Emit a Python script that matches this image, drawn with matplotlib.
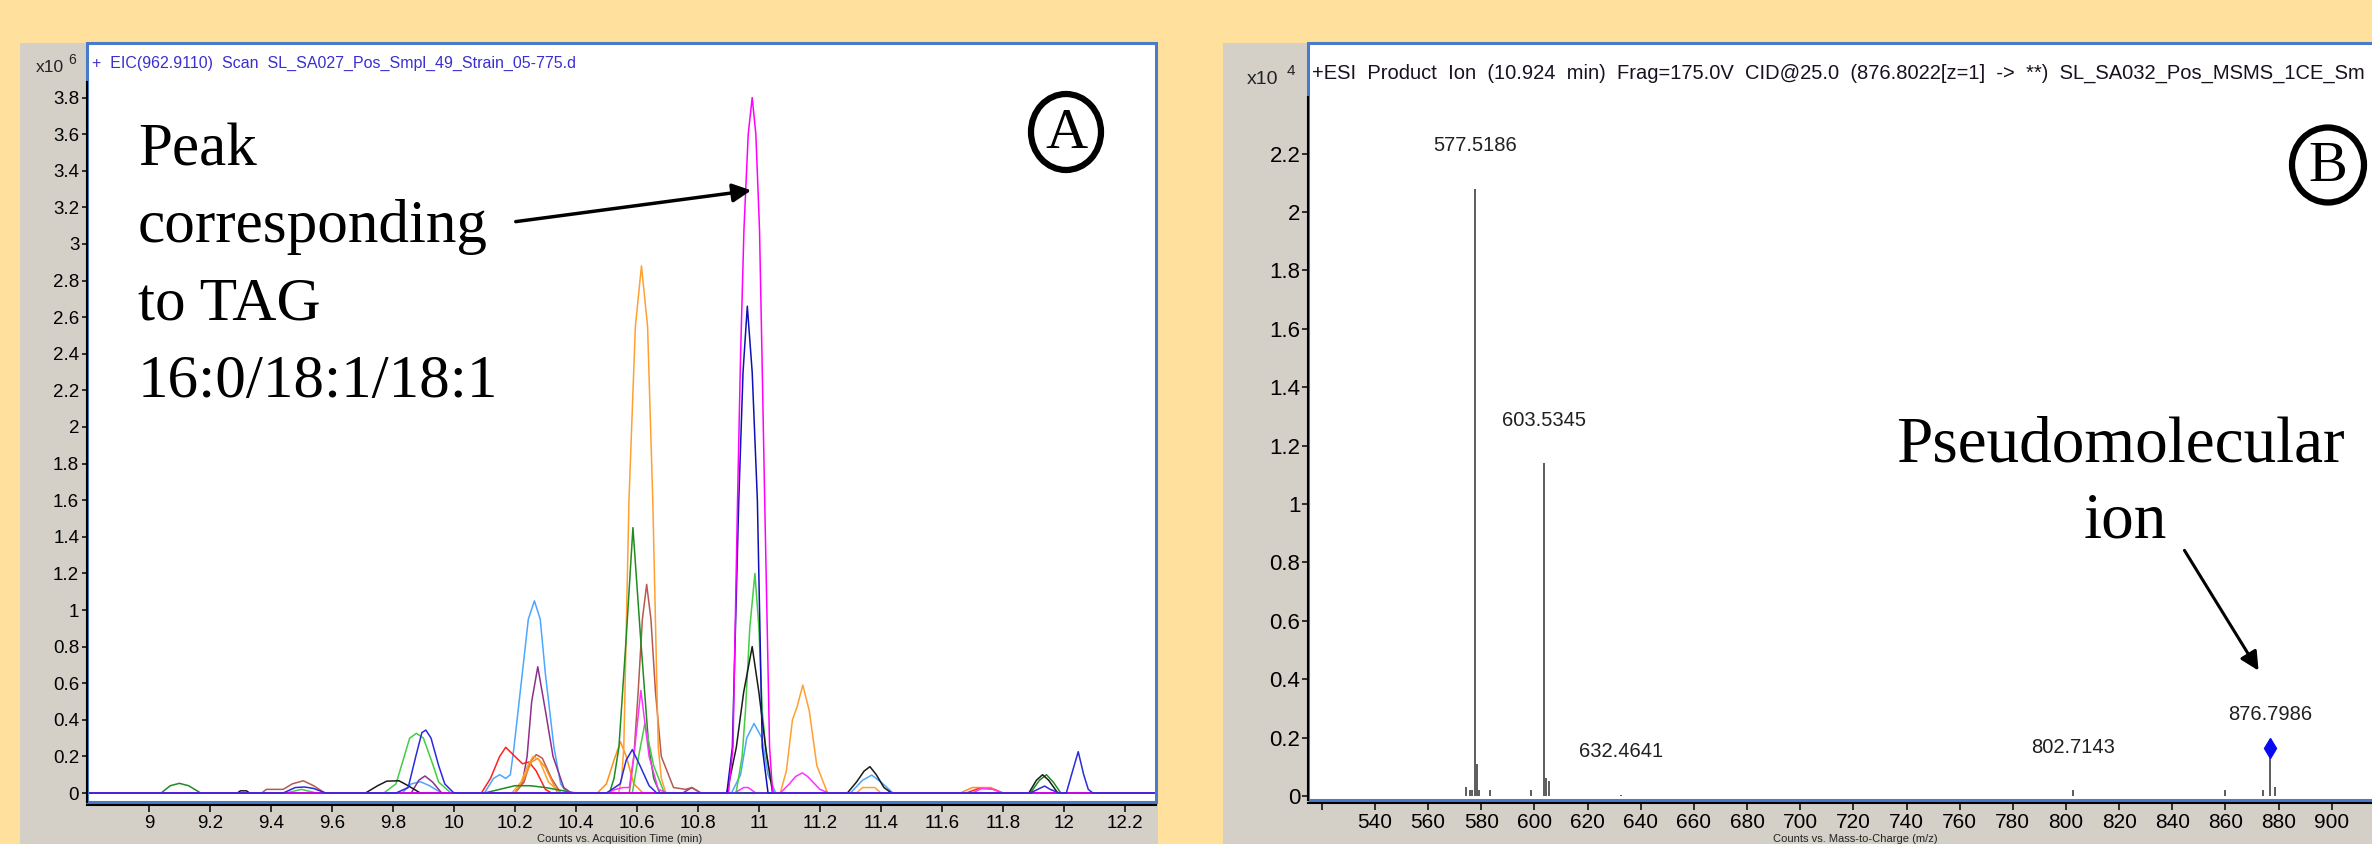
import numpy as np
import matplotlib.pyplot as plt
from matplotlib.patches import Rectangle, Ellipse
from matplotlib.ticker import FuncFormatter

plt.rcParams['font.family'] = ['Liberation Sans', 'DejaVu Sans']

# ---- panel A: extracted ion chromatograms (counts x10^6 vs time, min) ----
lightblue_t = [8.80, 9.83, 9.86, 9.89, 9.92, 9.96, 10.10, 10.13, 10.15, 10.17, 10.185, 10.197, 10.224, 10.244, 10.264,
               10.283, 10.30, 10.328, 10.35, 10.37, 10.91, 10.94, 10.96, 10.984, 11.01, 11.03, 11.055,
               11.30, 11.34, 11.37, 11.40, 11.44, 12.30]
lightblue_i = [0, 0, 0.05, 0.062, 0.04, 0, 0, 0.08, 0.1, 0.08, 0.1, 0.25, 0.65, 0.95, 1.05,
               0.95, 0.65, 0.25, 0.05, 0, 0, 0.1, 0.3, 0.38, 0.3, 0.1, 0,
               0, 0.07, 0.098, 0.06, 0, 0]

purple_t = [8.80, 9.86, 9.885, 9.905, 9.93, 9.96, 10.20, 10.225, 10.24, 10.255, 10.275, 10.30, 10.325, 10.36, 10.385,
            10.75, 10.78, 10.81, 12.30]
purple_i = [0, 0, 0.07, 0.093, 0.06, 0, 0, 0.06, 0.2, 0.5, 0.69, 0.45, 0.2, 0.03, 0,
            0, 0.03, 0, 0]

red_t = [8.80, 10.09, 10.12, 10.15, 10.17, 10.20, 10.225, 10.246, 10.27, 10.30, 10.32, 11.68, 11.72, 11.76, 11.80, 12.30]
red_i = [0, 0, 0.08, 0.2, 0.25, 0.2, 0.16, 0.17, 0.12, 0.02, 0, 0, 0.025, 0.025, 0, 0]

brown_t = [8.80, 9.37, 9.385, 9.44, 9.47, 9.506, 9.54, 9.577, 10.20, 10.23, 10.25, 10.27, 10.29, 10.32, 10.35,
           10.575, 10.59, 10.604, 10.618, 10.632, 10.646, 10.661, 10.68, 10.72, 10.76, 10.78, 10.81, 12.30]
brown_i = [0, 0, 0.02, 0.02, 0.05, 0.067, 0.04, 0, 0, 0.06, 0.17, 0.21, 0.19, 0.08, 0,
           0, 0.2, 0.55, 0.95, 1.14, 0.95, 0.55, 0.2, 0.03, 0.02, 0.03, 0, 0]

orange2_t = [8.80, 10.20, 10.23, 10.255, 10.275, 10.30, 10.34, 10.47, 10.50, 10.525, 10.546, 10.565, 10.59, 10.62,
             11.66, 11.70, 11.76, 11.80, 12.30]
orange2_i = [0, 0, 0.08, 0.17, 0.19, 0.14, 0, 0, 0.05, 0.18, 0.28, 0.2, 0.05, 0,
             0, 0.03, 0.03, 0, 0]

orange_t = [8.80, 10.19, 10.22, 10.245, 10.26, 10.28, 10.31, 10.35, 10.54, 10.55, 10.557, 10.574, 10.595, 10.615,
            10.635, 10.652, 10.67, 10.68, 10.695, 11.07, 11.09, 11.11, 11.125, 11.144, 11.165, 11.19, 11.225,
            11.32, 11.34, 11.38, 11.40, 12.30]
orange_i = [0, 0, 0.06, 0.16, 0.2, 0.18, 0.06, 0, 0, 0.08, 0.25, 1.6, 2.55, 2.88,
            2.55, 1.6, 0.25, 0.08, 0, 0, 0.12, 0.4, 0.47, 0.59, 0.45, 0.15, 0,
            0, 0.03, 0.03, 0, 0]

darkgreen_t = [8.80, 9.04, 9.07, 9.10, 9.13, 9.17, 10.10, 10.15, 10.20, 10.25, 10.30, 10.40, 10.51, 10.525, 10.541,
               10.565, 10.587, 10.612, 10.639, 10.655, 10.675, 11.89, 11.92, 11.943, 11.965, 11.99, 12.30]
darkgreen_i = [0, 0, 0.04, 0.053, 0.04, 0, 0, 0.02, 0.04, 0.04, 0.03, 0, 0, 0.08, 0.25,
               0.85, 1.45, 0.85, 0.25, 0.08, 0, 0, 0.07, 0.10, 0.06, 0, 0]

lightgreen_t = [8.80, 9.45, 9.50, 9.55, 9.77, 9.81, 9.83, 9.855, 9.877, 9.90, 9.93, 9.95, 9.99,
                10.585, 10.60, 10.626, 10.655, 10.69, 10.925, 10.945, 10.956, 10.97, 10.987, 11.00,
                11.011, 11.025, 11.05, 12.30]
lightgreen_i = [0, 0, 0.02, 0, 0, 0.05, 0.16, 0.3, 0.326, 0.3, 0.16, 0.06, 0,
                0, 0.15, 0.38, 0.15, 0, 0, 0.2, 0.45, 0.9, 1.2, 0.9,
                0.45, 0.2, 0, 0]

pink_t = [8.80, 10.50, 10.53, 10.555, 10.575, 10.59, 10.613, 10.64, 10.67, 10.70, 10.92, 10.95, 10.965, 10.99,
          11.07, 11.10, 11.12, 11.142, 11.16, 11.20, 11.23, 11.70, 11.73, 11.77, 11.80, 12.30]
pink_i = [0, 0, 0.02, 0.03, 0.03, 0.2, 0.56, 0.2, 0.02, 0, 0, 0.03, 0.03, 0,
          0, 0.05, 0.09, 0.11, 0.09, 0.02, 0, 0, 0.025, 0.02, 0, 0]

black_t = [8.80, 9.29, 9.30, 9.32, 9.33, 9.71, 9.75, 9.78, 9.82, 9.85, 9.89, 10.895, 10.926, 10.95, 10.978,
           11.00, 11.022, 11.045, 11.29, 11.32, 11.345, 11.364, 11.385, 11.41, 11.435, 11.885, 11.91,
           11.93, 11.95, 11.98, 12.30]
black_i = [0, 0, 0.012, 0.012, 0, 0, 0.04, 0.065, 0.067, 0.04, 0, 0, 0.25, 0.55, 0.80,
           0.55, 0.25, 0, 0, 0.06, 0.12, 0.144, 0.1, 0.03, 0, 0, 0.07,
           0.10, 0.07, 0, 0]

navy_t = [8.80, 10.895, 10.913, 10.934, 10.948, 10.962, 10.978, 10.995, 11.011, 11.03, 12.30]
navy_i = [0, 0, 0.25, 1.6, 2.3, 2.66, 2.3, 1.6, 0.25, 0, 0]

magenta_t = [8.80, 10.90, 10.915, 10.93, 10.94, 10.951, 10.965, 10.978, 10.99, 11.002, 11.01, 11.019,
             11.035, 11.045, 12.30]
magenta_i = [0, 0, 0.25, 1.6, 2.4, 3.08, 3.6, 3.8, 3.6, 3.08, 2.4, 1.6,
             0.25, 0, 0]

blue_t = [8.80, 9.44, 9.48, 9.51, 9.54, 9.58, 9.81, 9.85, 9.875, 9.895, 9.908, 9.925, 9.95, 9.97, 10.0,
          10.50, 10.545, 10.565, 10.585, 10.61, 10.64, 10.665, 11.89, 11.92, 11.937, 11.955, 11.985,
          12.008, 12.025, 12.047, 12.065, 12.08, 12.095, 12.30]
blue_i = [0, 0, 0.03, 0.033, 0.025, 0, 0, 0.03, 0.2, 0.33, 0.344, 0.3, 0.15, 0.05, 0,
          0, 0.05, 0.18, 0.237, 0.15, 0.04, 0, 0, 0.025, 0.038, 0.02, 0,
          0, 0.1, 0.226, 0.1, 0.02, 0, 0]

traces = [
    (lightblue_t, lightblue_i, '#4DA6FF'),
    (purple_t, purple_i, '#8E2F8E'),
    (red_t, red_i, '#FF2020'),
    (brown_t, brown_i, '#B55A50'),
    (orange2_t, orange2_i, '#FF8F1A'),
    (orange_t, orange_i, '#FFA030'),
    (darkgreen_t, darkgreen_i, '#1E8C1E'),
    (lightgreen_t, lightgreen_i, '#44CC44'),
    (pink_t, pink_i, '#FF33FF'),
    (black_t, black_i, '#1A1A1A'),
    (navy_t, navy_i, '#1010B8'),
    (magenta_t, magenta_i, '#FF00FF'),
    (blue_t, blue_i, '#2A2ADE'),
]

# ---- panel B: product ion spectrum (counts x10^4 vs m/z) ----
ms_mz = [574.3, 575.6, 576.5, 577.5186, 578.5, 579.3, 583.3, 598.6, 603.5345, 604.5, 605.5,
         632.4641, 802.7143, 860.0, 874.0, 876.7986, 878.8]
ms_int = [0.03, 0.02, 0.02, 2.08, 0.11, 0.02, 0.02, 0.02, 1.14, 0.06, 0.05,
          0.004, 0.02, 0.02, 0.02, 0.13, 0.03]
label_mz = [577.5186, 603.5345, 632.4641, 802.7143, 876.7986]
prec_mz = 876.7986
prec_y = 0.164

W, H = 2372, 844
BG = '#FFE09C'
GRAY = '#D4D0C8'
BORDER = '#4A7BCB'

fig = plt.figure(figsize=(W / 100, H / 100), dpi=100, facecolor=BG)

def box(x0, x1, ytop, ybot):
    return [x0 / W, (H - ybot) / H, (x1 - x0) / W, (ybot - ytop) / H]

bg = fig.add_axes([0, 0, 1, 1], zorder=0)
bg.set_xlim(0, W)
bg.set_ylim(H, 0)
bg.axis('off')
bg.add_patch(Rectangle((20, 43), 1138, 810, color=GRAY, lw=0))
bg.add_patch(Rectangle((1223, 43), 1160, 810, color=GRAY, lw=0))

num_fmt = FuncFormatter(lambda v, p: f"{v:g}")

# left panel
axA = fig.add_axes(box(87, 1156, 43, 802), zorder=1)
for t, i, c in traces:
    axA.plot(t, i, color=c, lw=1.1)
axA.set_xlim(8.797, 12.302)
axA.set_ylim(-0.049, 4.098)
axA.set_yticks(np.arange(0, 3.81, 0.2))
axA.set_xticks(np.arange(9, 12.21, 0.2))
axA.xaxis.set_major_formatter(num_fmt)
axA.yaxis.set_major_formatter(num_fmt)
axA.tick_params(axis='y', direction='out', length=3.6, width=1.1, pad=2, labelsize=13.5)
axA.tick_params(axis='x', direction='out', length=5, width=1.1, pad=1.5, labelsize=13.5)
axA.spines['top'].set_visible(False)
axA.spines['right'].set_visible(False)
axA.spines['left'].set_bounds(-0.049, 3.885)
axA.spines['left'].set_linewidth(1.5)
axA.spines['bottom'].set_position(('outward', 2.5))
axA.spines['bottom'].set_linewidth(1.5)
axA.add_patch(Rectangle((0, 0), 1, 1, transform=axA.transAxes, fill=False,
                        edgecolor=BORDER, lw=2.2, clip_on=False, zorder=2.4))

# right panel
axB = fig.add_axes(box(1308, 2390, 43, 800), zorder=1)
axB.vlines(ms_mz, 0, ms_int, color='#303030', lw=1.1)
axB.plot([prec_mz], [prec_y], marker='d', color='#0A0AF0', markersize=10, ls='none')
for mz in label_mz:
    axB.annotate(f"{mz:.4f}", xy=(mz, ms_int[ms_mz.index(mz)]), xytext=(0, 31),
                 textcoords='offset points', ha='center', va='center', fontsize=14.5, color='#202020')
axB.set_xlim(514.8, 921.9)
axB.set_ylim(-0.0137, 2.579)
axB.set_yticks(np.arange(0, 2.21, 0.2))
axB.set_xticks(np.arange(520, 901, 20))
axB.set_xticklabels([''] + [f"{v:g}" for v in np.arange(540, 901, 20)])
axB.yaxis.set_major_formatter(num_fmt)
axB.tick_params(axis='y', direction='out', length=4, width=1.1, pad=1.5, labelsize=16)
axB.tick_params(axis='x', direction='out', length=5, width=1.1, pad=1.5, labelsize=15)
axB.spines['top'].set_visible(False)
axB.spines['right'].set_visible(False)
axB.spines['left'].set_bounds(-0.0137, 2.394)
axB.spines['left'].set_linewidth(1.5)
axB.spines['bottom'].set_position(('outward', 2.5))
axB.spines['bottom'].set_linewidth(1.5)
axB.add_patch(Rectangle((0, 0), 1, 1, transform=axB.transAxes, fill=False,
                        edgecolor=BORDER, lw=2.2, clip_on=False, zorder=2.4))

# overlay texts, arrows, circled letters (pixel coordinates)
fg = fig.add_axes([0, 0, 1, 1], zorder=3)
fg.set_xlim(0, W)
fg.set_ylim(H, 0)
fg.axis('off')
fg.patch.set_alpha(0)

fg.text(36, 68, "x10", fontsize=12.5, va='center', ha='left', color='#222222')
fg.text(68, 60, "6", fontsize=10, va='center', ha='left', color='#222222')
fg.text(92, 63, "+  EIC(962.9110)  Scan  SL_SA027_Pos_Smpl_49_Strain_05-775.d",
        fontsize=11.5, va='center', ha='left', color='#3A2FD0')
fg.text(620, 843.5, "Counts vs. Acquisition Time (min)", fontsize=8, va='bottom', ha='center', color='#222222')

fg.text(1247, 80, "x10", fontsize=14, va='center', ha='left', color='#222222')
fg.text(1287, 71, "4", fontsize=11, va='center', ha='left', color='#222222')
fg.text(1312, 73, "+ESI  Product  Ion  (10.924  min)  Frag=175.0V  CID@25.0  (876.8022[z=1]  ->  **)  SL_SA032_Pos_MSMS_1CE_Sm",
        fontsize=14.5, va='center', ha='left', color='#1A1020')
fg.text(1855, 843.5, "Counts vs. Mass-to-Charge (m/z)", fontsize=8, va='bottom', ha='center', color='#222222')

serif = 'Liberation Serif'
fg.text(138, 166, "Peak", fontsize=44, family=serif, va='baseline', ha='left')
fg.text(138, 242, "corresponding", fontsize=44, family=serif, va='baseline', ha='left')
fg.text(138, 320, "to TAG", fontsize=44, family=serif, va='baseline', ha='left')
fg.text(138, 397, "16:0/18:1/18:1", fontsize=44, family=serif, va='baseline', ha='left')
fg.annotate('', xy=(754, 190), xytext=(513, 222),
            arrowprops=dict(arrowstyle='-|>', lw=2.5, color='black', mutation_scale=28))

fg.text(2120, 462, "Pseudomolecular", fontsize=47, family=serif, va='baseline', ha='center')
fg.text(2125, 537, "ion", fontsize=47, family=serif, va='baseline', ha='center')
fg.annotate('', xy=(2260, 673), xytext=(2183, 548),
            arrowprops=dict(arrowstyle='-|>', lw=2.2, color='black', mutation_scale=28))

fg.add_patch(Ellipse((1066, 132), 70, 76, fill=False, lw=4.5, edgecolor='black'))
fg.text(1066, 134, "A", fontsize=42, family=serif, va='center', ha='center')
fg.add_patch(Ellipse((2328, 165), 72, 75, fill=False, lw=4.5, edgecolor='black'))
fg.text(2328, 167, "B", fontsize=42, family=serif, va='center', ha='center')

fig.savefig("out.png", dpi=100, facecolor=BG)
